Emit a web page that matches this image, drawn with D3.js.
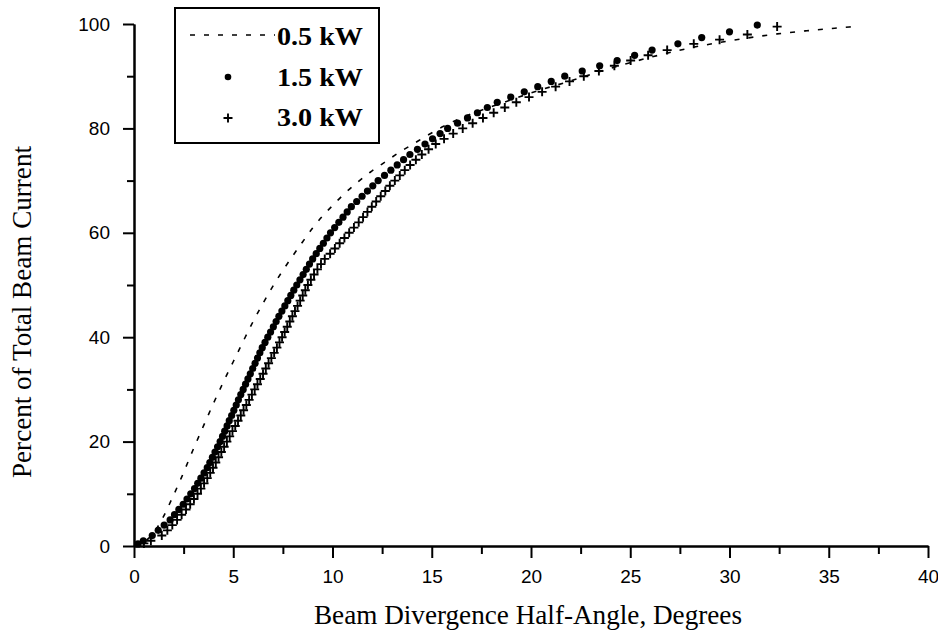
<!DOCTYPE html>
<html>
<head>
<meta charset="utf-8">
<script src="https://cdn.jsdelivr.net/npm/d3@7"></script>
<style>
    body { margin: 0; background: white; }
    .tick-label { font-family: "Liberation Sans", Arial, sans-serif; font-size: 19px; fill: black; }
    .axis-title { font-family: "Liberation Serif", "Times New Roman", serif; font-size: 27px; fill: black; }
    .legend-label { font-family: "Liberation Serif", "Times New Roman", serif; font-size: 25px; font-weight: bold; fill: black; }
</style>
</head>
<body>
<svg id="chart" width="938" height="637"></svg>
<script>
const seriesNames = ["0.5 kW", "1.5 kW", "3.0 kW"];
const xMajorTicks = [0, 5, 10, 15, 20, 25, 30, 35, 40];
const xMinorTicks = [2.5, 7.5, 12.5, 17.5, 22.5, 27.5, 32.5, 37.5];
const yMajorTicks = [0, 20, 40, 60, 80, 100];
const yMinorTicks = [10, 30, 50, 70, 90];
const xTitle = "Beam Divergence Half-Angle, Degrees";
const yTitle = "Percent of Total Beam Current";

// [degrees, percent]
const kw05 = [
    [0, 0], [0.5, 0.8], [0.95, 2.3], [1.45, 5.4], [2.0, 9.8], [2.4, 13.2], [2.95, 18.2],
    [3.5, 23.0], [4.0, 27.3], [4.5, 31.4], [5.0, 35.3], [5.5, 39.2], [6.0, 43.0],
    [6.5, 46.5], [7.0, 49.8], [7.5, 52.8], [8.0, 55.6], [8.5, 58.3], [9.0, 60.9],
    [9.5, 63.2], [10.0, 65.2], [10.6, 67.5], [11.3, 69.8], [11.9, 71.6], [12.7, 73.7],
    [13.4, 75.5], [14.1, 77.1], [14.8, 78.7], [15.6, 80.4], [16.5, 82.0], [17.5, 83.5],
    [18.5, 84.8], [20.0, 86.8], [22.0, 89.1], [24.0, 91.5], [26.0, 93.6], [28.0, 95.4],
    [30.2, 96.9], [32.4, 98.1], [33.9, 98.7], [35.3, 99.2], [36.3, 99.5]
];

const kw15 = [
    [0.2, 0.4], [0.47, 1], [0.92, 2], [1.22, 3], [1.52, 4], [1.82, 5], [2.04, 6], [2.26, 7],
    [2.48, 8], [2.67, 9], [2.86, 10], [3.05, 11], [3.21, 12], [3.37, 13], [3.53, 14],
    [3.69, 15], [3.82, 16], [3.95, 17], [4.08, 18], [4.21, 19], [4.34, 20], [4.46, 21],
    [4.57, 22], [4.69, 23], [4.80, 24], [4.92, 25], [5.03, 26], [5.15, 27], [5.26, 28],
    [5.38, 29], [5.50, 30], [5.62, 31], [5.74, 32], [5.86, 33], [5.98, 34], [6.10, 35],
    [6.22, 36], [6.34, 37], [6.46, 38], [6.60, 39], [6.74, 40], [6.88, 41], [7.02, 42],
    [7.16, 43], [7.30, 44], [7.45, 45], [7.60, 46], [7.75, 47], [7.90, 48], [8.05, 49],
    [8.20, 50], [8.36, 51], [8.52, 52], [8.68, 53], [8.84, 54], [9.00, 55], [9.18, 56],
    [9.36, 57], [9.54, 58], [9.72, 59], [9.90, 60], [10.11, 61], [10.32, 62], [10.53, 63],
    [10.74, 64], [10.95, 65], [11.22, 66], [11.49, 67], [11.76, 68], [12.03, 69], [12.30, 70],
    [12.62, 71], [12.94, 72], [13.26, 73], [13.58, 74], [13.90, 75], [14.28, 76], [14.66, 77],
    [15.04, 78], [15.42, 79], [15.80, 80], [16.30, 81], [16.80, 82], [17.30, 83], [17.80, 84],
    [18.30, 85], [18.98, 86], [19.66, 87], [20.34, 88], [21.02, 89], [21.70, 90], [22.58, 91],
    [23.46, 92], [24.34, 93], [25.22, 94], [26.10, 95], [27.4, 96.2], [28.6, 97.4],
    [30.0, 98.5], [31.4, 99.8]
];

const kw30 = [
    [0.5, 0.5], [0.85, 1], [1.40, 2], [1.68, 3], [1.93, 4], [2.17, 5], [2.40, 6], [2.62, 7],
    [2.83, 8], [3.02, 9], [3.20, 10], [3.37, 11], [3.53, 12], [3.69, 13], [3.84, 14],
    [3.98, 15], [4.12, 16], [4.26, 17], [4.40, 18], [4.54, 19], [4.68, 20], [4.82, 21],
    [4.96, 22], [5.10, 23], [5.24, 24], [5.38, 25], [5.52, 26], [5.66, 27], [5.80, 28],
    [5.94, 29], [6.08, 30], [6.22, 31], [6.36, 32], [6.50, 33], [6.64, 34], [6.78, 35],
    [6.92, 36], [7.06, 37], [7.20, 38], [7.33, 39], [7.46, 40], [7.59, 41], [7.72, 42],
    [7.85, 43], [7.98, 44], [8.11, 45], [8.24, 46], [8.37, 47], [8.50, 48], [8.63, 49],
    [8.76, 50], [8.91, 51], [9.07, 52], [9.24, 53], [9.42, 54], [9.61, 55], [9.88, 56],
    [10.12, 57], [10.36, 58], [10.60, 59], [10.84, 60], [11.08, 61], [11.32, 62], [11.54, 63],
    [11.76, 64], [11.98, 65], [12.20, 66], [12.43, 67], [12.66, 68], [12.89, 69], [13.14, 70],
    [13.39, 71], [13.64, 72], [13.91, 73], [14.20, 74], [14.50, 75], [14.84, 76], [15.20, 77],
    [15.62, 78], [16.08, 79], [16.56, 80], [17.06, 81], [17.58, 82], [18.12, 83], [18.68, 84],
    [19.26, 85], [19.90, 86], [20.56, 87], [21.24, 88], [21.94, 89], [22.66, 90], [23.42, 91],
    [24.20, 92], [25.02, 93], [25.90, 94], [26.86, 95], [28.2, 96.2], [29.5, 97],
    [30.9, 98], [32.4, 99.5]
];

const svg = d3.select("#chart");
const x = d3.scaleLinear().domain([0, 40]).range([134, 928]);
const y = d3.scaleLinear().domain([0, 100]).range([546, 24]);

const plusPath = "M-4.5,0H4.5M0,-4.5V4.5";

function styleAxis(g) {
    g.select(".domain").attr("stroke", "black").attr("stroke-width", 2);
    g.selectAll(".tick line").attr("stroke", "black").attr("stroke-width", 2);
    g.selectAll(".tick text").attr("class", "tick-label").attr("fill", "black");
}

// x axis: minor ticks then major ticks with labels
svg.append("g")
    .attr("transform", `translate(0,${y(0)})`)
    .call(d3.axisBottom(x).tickValues(xMinorTicks).tickSize(8).tickSizeOuter(0).tickFormat(""))
    .call(styleAxis);
svg.append("g")
    .attr("transform", `translate(0,${y(0)})`)
    .call(d3.axisBottom(x).tickValues(xMajorTicks).tickSize(12).tickSizeOuter(0).tickPadding(12))
    .call(styleAxis);

// y axis
svg.append("g")
    .attr("transform", `translate(${x(0)},0)`)
    .call(d3.axisLeft(y).tickValues(yMinorTicks).tickSize(7).tickSizeOuter(0).tickFormat(""))
    .call(styleAxis);
svg.append("g")
    .attr("transform", `translate(${x(0)},0)`)
    .call(d3.axisLeft(y).tickValues(yMajorTicks).tickSize(11).tickSizeOuter(0).tickPadding(13))
    .call(styleAxis);

svg.selectAll(".tick-label").attr("font-size", 19);

// titles
svg.append("text")
    .attr("class", "axis-title")
    .attr("x", 528)
    .attr("y", 624)
    .attr("text-anchor", "middle")
    .attr("textLength", 428)
    .attr("lengthAdjust", "spacingAndGlyphs")
    .text(xTitle);

svg.append("text")
    .attr("class", "axis-title")
    .attr("transform", "translate(31,312) rotate(-90)")
    .attr("text-anchor", "middle")
    .attr("textLength", 332)
    .attr("lengthAdjust", "spacingAndGlyphs")
    .text(yTitle);

// 0.5 kW dashed line
const line = d3.line()
    .x(d => x(d[0]))
    .y(d => y(d[1]))
    .curve(d3.curveMonotoneX);

svg.append("path")
    .datum(kw05)
    .attr("d", line)
    .attr("fill", "none")
    .attr("stroke", "black")
    .attr("stroke-width", 1.6)
    .attr("stroke-dasharray", "5,9");

// 3.0 kW pluses
svg.append("g")
    .selectAll("path")
    .data(kw30)
    .enter().append("path")
    .attr("transform", d => `translate(${x(d[0])},${y(d[1])})`)
    .attr("d", plusPath)
    .attr("fill", "none")
    .attr("stroke", "black")
    .attr("stroke-width", 1.9);

// 1.5 kW dots
svg.append("g")
    .selectAll("circle")
    .data(kw15)
    .enter().append("circle")
    .attr("cx", d => x(d[0]))
    .attr("cy", d => y(d[1]))
    .attr("r", 3.6)
    .attr("fill", "black");

// legend
const legend = svg.append("g");
legend.append("rect")
    .attr("x", 175).attr("y", 8)
    .attr("width", 204).attr("height", 135)
    .attr("fill", "white")
    .attr("stroke", "black")
    .attr("stroke-width", 2);

legend.append("line")
    .attr("x1", 190).attr("x2", 275)
    .attr("y1", 35).attr("y2", 35)
    .attr("stroke", "black")
    .attr("stroke-width", 1.6)
    .attr("stroke-dasharray", "5,9");
legend.append("circle")
    .attr("cx", 228).attr("cy", 77)
    .attr("r", 3.3)
    .attr("fill", "black");
legend.append("path")
    .attr("transform", "translate(228,118)")
    .attr("d", plusPath)
    .attr("stroke", "black")
    .attr("stroke-width", 1.9);

const legendBaselines = [45, 86, 126];
legend.selectAll(".legend-label")
    .data(seriesNames)
    .enter().append("text")
    .attr("class", "legend-label")
    .attr("x", 277)
    .attr("y", (d, i) => legendBaselines[i])
    .attr("textLength", 86)
    .attr("lengthAdjust", "spacingAndGlyphs")
    .text(d => d);
</script>
</body>
</html>
